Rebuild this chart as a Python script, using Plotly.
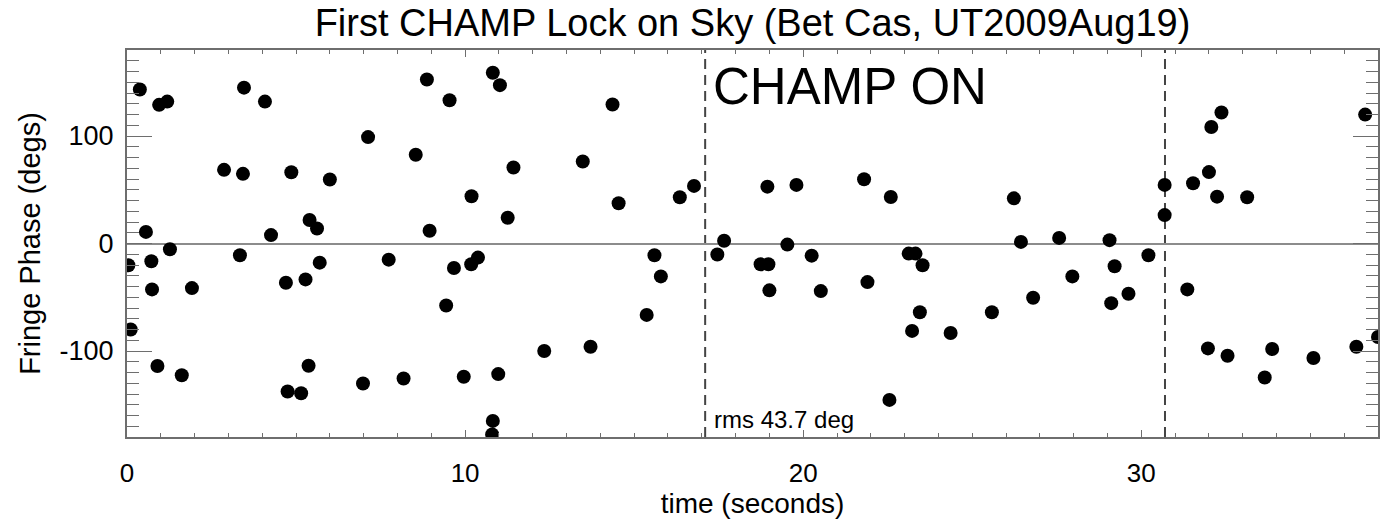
import plotly.graph_objects as go

# Fringe phase samples: time (s) and phase (deg)
time_s = [
    0.38, 0.56, 0.95, 1.19, 3.46, 4.08, 2.87, 3.43, 4.86, 6.00,
    5.40, 5.62, 4.26, 1.27, 0.04, 0.72, 0.74, 1.92, 3.34, 4.70,
    5.28, 5.70, 0.11, 0.90, 1.62, 4.75, 5.15, 5.37,
    8.87, 10.82, 11.03, 9.54, 7.13, 8.54, 11.43, 10.19, 11.26, 8.95,
    7.74, 9.67, 10.18, 10.38, 9.44, 6.98, 8.18, 9.96, 10.98, 10.82, 10.80,
    14.36, 13.48, 14.54, 16.35, 16.77, 17.66, 17.46, 15.60, 15.79, 15.37,
    12.34, 13.71,
    18.94, 19.80, 21.80, 22.59, 19.53, 20.25, 18.74, 18.97, 19.00, 20.52,
    21.90, 23.12, 23.32, 23.53, 23.45, 23.22, 24.36, 22.55,
    26.23, 26.44, 27.57, 29.06, 30.21, 29.21, 27.96, 26.80, 29.62, 29.11,
    25.58, 30.69, 30.69,
    31.53, 32.00, 32.07, 32.37, 32.24, 33.13, 36.62, 31.36, 31.97, 32.55,
    33.87, 33.65, 35.09, 36.36, 37.00,
]
phase_deg = [
    143.3, 10.8, 129.0, 132.0, 145.0, 132.0, 68.5, 64.8, 66.3, 59.5,
    21.8, 14.0, 7.8, -5.3, -20.3, -16.5, -42.7, -41.5, -10.9, -36.5,
    -33.4, -17.8, -80.0, -114.0, -122.5, -137.7, -139.3, -113.7,
    152.6, 158.9, 147.3, 133.3, 99.0, 82.5, 70.7, 43.9, 24.0, 11.8,
    -15.0, -22.8, -19.3, -13.1, -57.7, -130.3, -125.6, -124.0, -121.5, -165.0, -177.6,
    129.3, 76.3, 37.4, 43.0, 53.6, 2.5, -10.3, -10.9, -30.6, -66.4,
    -100.0, -96.0,
    52.9, 54.5, 59.8, 43.3, -1.0, -11.3, -19.3, -19.3, -43.6, -44.3,
    -35.9, -9.4, -9.4, -20.3, -64.0, -81.3, -83.2, -145.5,
    42.0, 1.5, 5.2, 3.1, -10.9, -21.2, -30.6, -50.5, -46.7, -55.5,
    -63.9, 54.5, 26.4,
    56.0, 66.4, 108.4, 121.8, 43.6, 43.0, 119.9, -42.7, -97.6, -104.4,
    -98.1, -124.6, -106.5, -96.0, -87.0,
]

# Axis tick positions and labels (plain hyphen for negatives)
x_ticks = [0, 10, 20, 30]
x_labels = ["0", "10", "20", "30"]
y_ticks = [-100, 0, 100]
y_labels = ["-100", "0", "100"]

# CHAMP on / off markers (s)
champ_times = [17.1, 30.7]
rms_text = "rms 43.7 deg"

FONT = "Liberation Sans, Arial, Helvetica, sans-serif"
AXIS_GRAY = "#6e6e6e"

fig = go.Figure()
fig.add_trace(go.Scatter(
    x=time_s, y=phase_deg, mode="markers",
    marker=dict(color="black", size=14, line=dict(width=0)),
    showlegend=False,
))

for t in champ_times:
    fig.add_shape(type="line", xref="x", yref="y", x0=t, x1=t, y0=-180, y1=180,
                  line=dict(color="#444444", width=2, dash="10px,6px"), layer="below")

fig.add_annotation(x=17.28, y=146, xref="x", yref="y", text="CHAMP ON",
                   showarrow=False, xanchor="left", yanchor="middle",
                   font=dict(family=FONT, size=51, color="black"))
fig.add_annotation(x=17.3, y=-164, xref="x", yref="y", text=rms_text,
                   showarrow=False, xanchor="left", yanchor="middle",
                   font=dict(family=FONT, size=24, color="black"))

fig.update_layout(
    width=1383, height=519,
    margin=dict(l=127, r=3, t=50, b=82),
    paper_bgcolor="white", plot_bgcolor="white",
    font=dict(family=FONT, color="black"),
    title=dict(text="First CHAMP Lock on Sky (Bet Cas, UT2009Aug19)",
               x=0.5, xref="paper", xanchor="center",
               y=1 - 23 / 519, yref="container", yanchor="middle",
               font=dict(family=FONT, size=38, color="black")),
    xaxis=dict(
        range=[0, 37], tickvals=x_ticks, ticktext=x_labels,
        showgrid=False, zeroline=False,
        showline=True, linecolor=AXIS_GRAY, linewidth=2, mirror="ticks",
        ticks="inside", ticklen=7, tickwidth=1, tickcolor=AXIS_GRAY,
        minor=dict(dtick=1, tick0=0, ticks="inside", ticklen=4, tickcolor=AXIS_GRAY, showgrid=False),
        tickfont=dict(family=FONT, size=26, color="black"),
        ticklabelstandoff=12,
        title=dict(text="time (seconds)", standoff=8,
                   font=dict(family=FONT, size=28, color="black")),
    ),
    yaxis=dict(
        range=[-180, 180], tickvals=y_ticks, ticktext=y_labels,
        showgrid=False,
        zeroline=True, zerolinecolor="#8c8c8c", zerolinewidth=2,
        showline=True, linecolor=AXIS_GRAY, linewidth=2, mirror="ticks",
        ticks="inside", ticklen=25, tickwidth=1, tickcolor=AXIS_GRAY,
        minor=dict(dtick=10, tick0=0, ticks="inside", ticklen=12, tickcolor=AXIS_GRAY, showgrid=False),
        tickfont=dict(family=FONT, size=27, color="black"),
        ticklabelstandoff=6,
        title=dict(text="Fringe Phase (degs)", standoff=10,
                   font=dict(family=FONT, size=29, color="black")),
    ),
)

fig.write_html("out.html")
